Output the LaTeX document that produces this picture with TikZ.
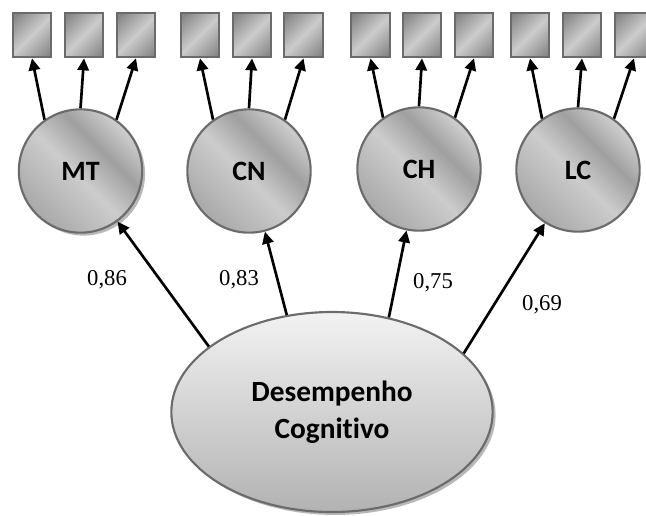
\documentclass[tikz,border=0pt]{standalone}
\usepackage{fontspec}
\setmainfont{Liberation Serif}
\newfontfamily\labelfont[Ligatures=NoCommon]{Carlito}
\usetikzlibrary{arrows.meta,shapes.geometric,shadows}

\definecolor{edgegray}{gray}{0.42}
\definecolor{gdark}{gray}{0.52}
\definecolor{gmid}{gray}{0.62}
\definecolor{glight}{gray}{0.80}
\definecolor{gpale}{gray}{0.95}
\definecolor{gbottom}{gray}{0.70}
\definecolor{shadowgray}{gray}{0.72}

% indicator boxes: dark corners, light diagonal band
\pgfdeclarehorizontalshading{boxshade}{100bp}{%
  color(0bp)=(gdark); color(18bp)=(gdark); color(50bp)=(glight);
  color(82bp)=(gdark); color(100bp)=(gdark)}
% factor circles
\pgfdeclarehorizontalshading{factorshade}{100bp}{%
  color(0bp)=(gmid); color(18bp)=(gmid); color(48bp)=(glight);
  color(62bp)=(gray!75!white); color(74bp)=(glight);
  color(84bp)=(gmid); color(100bp)=(gmid)}
% general factor: light on top, darker at the bottom
\pgfdeclareverticalshading{generalshade}{100bp}{%
  color(0bp)=(gbottom); color(25bp)=(gbottom);
  color(75bp)=(gpale); color(100bp)=(gpale)}

\tikzset{
  indicator/.style={draw=edgegray, line width=1.5pt, shading=boxshade,
    shading angle=-45, minimum width=29pt, minimum height=33.5pt,
    inner sep=0pt},
  factor/.style={circle, draw=edgegray, line width=1.6pt, shading=factorshade,
    shading angle=45, minimum size=92.5pt, inner sep=0pt,
    font=\labelfont\bfseries\fontsize{21}{25}\selectfont},
  shadowed/.style={drop shadow={shadow xshift=2.2pt, shadow yshift=-2.2pt,
    fill=shadowgray, opacity=1}},
  general/.style={ellipse, draw=edgegray, line width=1.6pt,
    shading=generalshade, minimum width=241pt, minimum height=150pt,
    inner sep=0pt, align=center,
    font=\labelfont\bfseries\fontsize{22}{27.5}\selectfont},
  loading/.style={anchor=base, font=\fontsize{17}{20}\selectfont},
  path arrow/.style={line width=2pt,
    -{Triangle[length=9pt,width=8.5pt]}}
}

\begin{document}
\begin{tikzpicture}[x=0.75pt, y=-0.75pt]
  \useasboundingbox (0,0) rectangle (646,515);
  \clip (0,0) rectangle (646,515);

  % observed indicators
  \foreach \n/\px in {m1/32, m2/84, m3/136, c1/200, c2/252, c3/303.5,
                      h1/370.5, h2/422, h3/474, l1/530, l2/582, l3/634}
    \node[indicator] (\n) at (\px,35) {};

  % first-order factors
  \node[factor, shadowed] (MT) at (80.5,171) {MT};
  \node[factor] (CN) at (249,171) {CN};
  \node[factor] (CH) at (419,169) {CH};
  \node[factor] (LC) at (578,170) {LC};

  % second-order factor
  \node[general, shadowed] (D) at (332,412) {Desempenho\\Cognitivo};

  % factor -> indicator paths
  \foreach \f/\a/\b/\c in {MT/m1/m2/m3, CN/c1/c2/c3, CH/h1/h2/h3, LC/l1/l2/l3} {
    \draw[path arrow] (\f.125) -- (\a.south);
    \draw[path arrow] (\f.north) -- (\b.south);
    \draw[path arrow] (\f.55) -- (\c.south);
  }

  % general factor -> first-order factors
  \draw[path arrow] (D.152.5) -- (MT);
  \draw[path arrow] (D.115.8) -- (CN);
  \draw[path arrow] (D.59.6) -- (CH);
  \draw[path arrow] (D.24.8) -- (LC);

  % standardized loadings
  \node[loading] (w1) at (107,285) {0,86};
  \node[loading] (w2) at (239,285) {0,83};
  \node[loading] (w3) at (433,288) {0,75};
  \node[loading] (w4) at (542,310) {0,69};
\end{tikzpicture}
\end{document}
